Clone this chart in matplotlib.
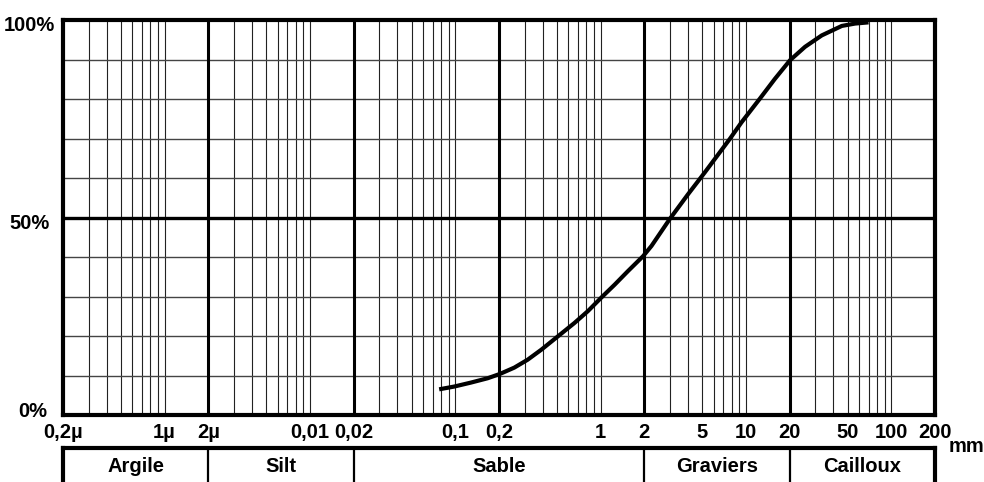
import numpy as np
import matplotlib.pyplot as plt

plt.rcParams['font.family'] = ['Liberation Sans', 'DejaVu Sans']

# courbe granulométrique
taille_mm = [0.0775, 0.0983, 0.128, 0.167, 0.203, 0.255, 0.315, 0.390, 0.508, 0.661,
             0.818, 1.01, 1.25, 1.54, 1.96, 2.24, 2.99, 4.00, 5.21, 7.75, 9.33,
             12.48, 15.83, 20.1, 25.5, 33.25, 45.7, 56.4, 69.8]
passant = [6.5, 7.2, 8.2, 9.3, 10.4, 12.0, 14.0, 16.5, 19.9, 23.3,
           26.3, 29.7, 33.0, 36.4, 40.2, 42.8, 49.6, 55.9, 61.4, 69.9, 74.1,
           80.1, 85.1, 89.8, 93.2, 96.1, 98.5, 99.1, 99.4]

tick_pos = [0.0002, 0.001, 0.002, 0.01, 0.02, 0.1, 0.2, 1, 2, 5, 10, 20, 50, 100, 200]
tick_lab = ['0,2µ', '1µ', '2µ', '0,01', '0,02', '0,1', '0,2', '1', '2', '5', '10', '20', '50', '100', '200']

classes = ['Argile', 'Silt', 'Sable', 'Graviers', 'Cailloux']
limites = [0.0002, 0.002, 0.02, 2, 20, 200]

xmin, xmax = 0.0002, 200
majeurs = [0.002, 0.02, 0.2, 2, 20]
fs = 14.5

fig = plt.figure(figsize=(9.84, 4.82), dpi=100)
ax = fig.add_axes([63/984, 1-415/482, 872/984, 395/482])
ax.set_xscale('log')
ax.set_xlim(xmin, xmax)
ax.set_ylim(0, 100)

# grille mineure
for e in range(-4, 3):
    for m in range(1, 10):
        v = m * 10.0**e
        if xmin * 1.001 < v < xmax * 0.999 and not any(abs(v - M) / M < 1e-6 for M in majeurs):
            ax.axvline(v, color='#222222', lw=0.8, zorder=1)
for p in range(10, 100, 10):
    if p != 50:
        ax.axhline(p, color='#444444', lw=1.0, zorder=1)
# grille majeure
for M in majeurs:
    ax.axvline(M, color='black', lw=2.2, zorder=2)
ax.axhline(50, color='black', lw=2.4, zorder=2)

ax.plot(taille_mm, passant, color='black', lw=3, solid_capstyle='butt',
        solid_joinstyle='round', zorder=3)

for s in ax.spines.values():
    s.set_linewidth(3)
    s.set_zorder(4)

ax.set_xticks(tick_pos)
ax.set_xticklabels(tick_lab, fontsize=fs, fontweight='bold')
ax.minorticks_off()
ax.tick_params(axis='x', length=0, pad=6)
ax.set_yticks([])

for y, lab, dx in [(98.5, '100%', -0.009), (48.5, '50%', -0.015), (0.8, '0%', -0.018)]:
    ax.text(dx, y, lab, transform=ax.get_yaxis_transform(), ha='right', va='center',
            fontsize=fs, fontweight='bold')
ax.text(966/984, 1-447/482, 'mm', transform=fig.transFigure, ha='center', va='center',
        fontsize=fs, fontweight='bold')

# tableau des classes
tb = fig.add_axes([63/984, 0, 872/984, 1-448/482])
tb.set_xscale('log')
tb.set_xlim(xmin, xmax)
tb.set_ylim(0, 1)
tb.set_xticks([])
tb.set_yticks([])
tb.minorticks_off()
tb.spines['bottom'].set_visible(False)
for k in ['top', 'left', 'right']:
    tb.spines[k].set_linewidth(3)
for b in limites[1:-1]:
    tb.axvline(b, color='black', lw=1.6)
for i, c in enumerate(classes):
    xc = np.sqrt(limites[i] * limites[i+1])
    tb.text(xc, 0.45, c, ha='center', va='center', fontsize=fs, fontweight='bold')

fig.savefig('out.png', dpi=100)
